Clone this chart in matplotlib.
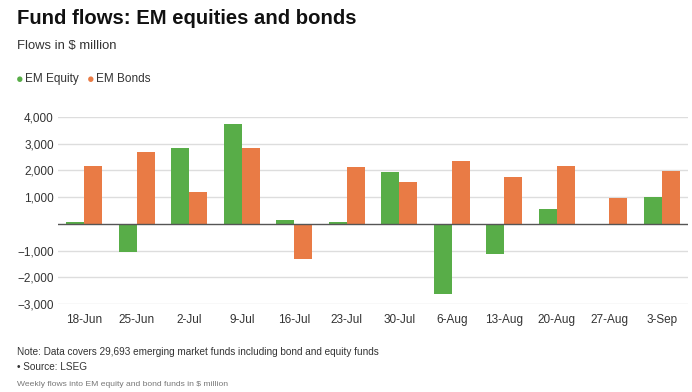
import matplotlib.pyplot as plt
import numpy as np

plt.rcParams['font.family'] = ['Liberation Sans', 'DejaVu Sans']

weeks = ['18-Jun', '25-Jun', '2-Jul', '9-Jul', '16-Jul', '23-Jul',
         '30-Jul', '6-Aug', '13-Aug', '20-Aug', '27-Aug', '3-Sep']
em_equity = [75, -1050, 2850, 3730, 160, 80, 1930, -2640, -1110, 550, 0, 1020]
em_bonds = [2160, 2680, 1200, 2830, -1310, 2140, 1550, 2340, 1770, 2160, 970, 1990]
yticks = [-3000, -2000, -1000, 1000, 2000, 3000, 4000]

GREEN = '#58ad48'
ORANGE = '#e97b45'

fig = plt.figure(figsize=(6.92, 3.92), dpi=100)
ax = fig.add_axes([58 / 692, 1 - 304 / 392, 630 / 692, 187 / 392])

x = np.arange(len(weeks))
w = 0.345
ax.bar(x - w / 2, em_equity, width=w, color=GREEN, zorder=2)
ax.bar(x + w / 2, em_bonds, width=w, color=ORANGE, zorder=2)

ax.set_xlim(-0.5, len(weeks) - 0.5)
ax.set_ylim(-3000, 4000)
ax.set_yticks(yticks)
ax.set_yticklabels([f'{v:,}'.replace('-', '\u2212') for v in yticks])
ax.yaxis.grid(True, color='#dddddd', linewidth=1, zorder=0)
ax.axhline(0, color='#555555', linewidth=1, zorder=3)
ax.set_xticks(x)
ax.set_xticklabels(weeks)
ax.tick_params(length=0, labelsize=8.5, labelcolor='#333333')
ax.tick_params(axis='x', pad=7)
ax.tick_params(axis='y', pad=3)
for s in ax.spines.values():
    s.set_visible(False)

fig.text(17 / 692, 1 - 18 / 392, 'Fund flows: EM equities and bonds',
         fontsize=14.6, fontweight='bold', color='#111111', va='center')
fig.text(17 / 692, 1 - 46 / 392, 'Flows in $ million', fontsize=9.4,
         color='#333333', va='center')

# legend
fig.text(20 / 692, 1 - 80 / 392, '\u25cf', fontsize=9, color=GREEN, va='center', ha='center')
fig.text(25 / 692, 1 - 79 / 392, 'EM Equity', fontsize=8.5, color='#333333', va='center')
fig.text(91 / 692, 1 - 80 / 392, '\u25cf', fontsize=9, color=ORANGE, va='center', ha='center')
fig.text(96 / 692, 1 - 79 / 392, 'EM Bonds', fontsize=8.5, color='#333333', va='center')

fig.text(17 / 692, 1 - 352 / 392,
         'Note: Data covers 29,693 emerging market funds including bond and equity funds',
         fontsize=7.2, color='#333333', va='center')
fig.text(17 / 692, 1 - 367 / 392, '\u2022 Source: LSEG', fontsize=7.2,
         color='#333333', va='center')
fig.text(17 / 692, 1 - 385 / 392, 'Weekly flows into EM equity and bond funds in $ million',
         fontsize=6.1, color='#777777', va='center')

fig.savefig('out.png', dpi=100)
